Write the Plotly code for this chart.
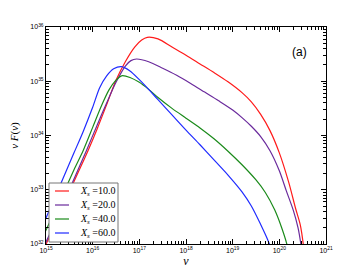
import plotly.graph_objects as go

# Values (log10 of nu, log10 of nu*F(nu))
labels = ["10.0", "20.0", "40.0", "60.0"]
colors = ["#ff1a1a", "#6a2a9c", "#1a8a1a", "#1f2bff"]

lognu_10 = [14.98, 15.3, 15.6, 15.9, 16.1, 16.3, 16.5, 16.7, 16.9, 17.05, 17.17, 17.4, 17.7, 18.0, 18.3, 18.6, 18.9, 19.2, 19.4, 19.6, 19.8, 20.0, 20.2, 20.35, 20.45, 20.52, 20.56]
logf_10 = [31.96, 32.55, 33.15, 33.72, 34.13, 34.57, 35.02, 35.36, 35.63, 35.76, 35.81, 35.78, 35.63, 35.48, 35.32, 35.16, 34.99, 34.79, 34.62, 34.39, 34.09, 33.68, 33.14, 32.65, 32.35, 31.95, 31.6]

lognu_20 = [14.98, 15.3, 15.6, 15.87, 16.1, 16.3, 16.5, 16.7, 16.82, 16.94, 17.2, 17.5, 17.8, 18.1, 18.4, 18.7, 19.0, 19.2, 19.4, 19.6, 19.8, 20.0, 20.15, 20.3, 20.4, 20.47, 20.52]
logf_20 = [32.0, 32.6, 33.2, 33.73, 34.2, 34.6, 34.98, 35.28, 35.38, 35.41, 35.36, 35.24, 35.11, 34.96, 34.8, 34.64, 34.47, 34.33, 34.17, 33.98, 33.72, 33.35, 32.98, 32.62, 32.3, 31.95, 31.6]

lognu_40 = [14.98, 15.3, 15.6, 15.8, 16.0, 16.2, 16.35, 16.5, 16.62, 16.8, 17.0, 17.2, 17.4, 17.7, 18.0, 18.3, 18.6, 18.9, 19.2, 19.5, 19.7, 19.9, 20.05, 20.16, 20.22]
logf_40 = [32.22, 32.8, 33.37, 33.73, 34.15, 34.57, 34.84, 35.02, 35.1, 35.07, 34.98, 34.85, 34.7, 34.5, 34.32, 34.14, 33.94, 33.71, 33.46, 33.18, 32.95, 32.63, 32.3, 32.0, 31.75]

lognu_60 = [14.98, 15.3, 15.6, 15.8, 16.0, 16.15, 16.3, 16.45, 16.62, 16.8, 17.0, 17.2, 17.4, 17.7, 18.0, 18.3, 18.6, 18.9, 19.2, 19.4, 19.6, 19.75, 19.85]
logf_60 = [32.44, 33.08, 33.68, 34.08, 34.52, 34.88, 35.1, 35.23, 35.27, 35.19, 35.03, 34.85, 34.66, 34.38, 34.1, 33.83, 33.55, 33.27, 32.96, 32.7, 32.36, 32.08, 31.85]

x_exps = [15, 16, 17, 18, 19, 20, 21]
y_exps = [32, 33, 34, 35, 36]

series = [(lognu_10, logf_10), (lognu_20, logf_20), (lognu_40, logf_40), (lognu_60, logf_60)]

fig = go.Figure()
for (ln, lf), lab, col in zip(series, labels, colors):
    fig.add_trace(go.Scatter(
        x=[10.0 ** v for v in ln], y=[10.0 ** v for v in lf],
        mode="lines", line=dict(color=col, width=1.2, shape="spline", smoothing=0.8),
        name="<i>X</i><sub><i>s</i></sub> =" + lab, showlegend=False,
    ))

minor_x = [m * 10.0 ** e for e in x_exps[:-1] for m in range(2, 10)]
minor_y = [m * 10.0 ** e for e in y_exps[:-1] for m in range(2, 10)]

axis_common = dict(
    type="log", showgrid=False, zeroline=False, showline=True, linecolor="black",
    linewidth=1, mirror="allticks", ticks="inside", ticklen=5, tickwidth=1,
    tickcolor="black", automargin=False,
    tickfont=dict(family="Liberation Sans, Arial", size=7, color="black"),
)

fig.update_xaxes(
    **axis_common, range=[15, 21], tickmode="array",
    tickvals=[10.0 ** e for e in x_exps], ticktext=["10<sup>%d</sup>" % e for e in x_exps],
    minor=dict(ticks="inside", ticklen=3, tickcolor="black", tickmode="array", tickvals=minor_x),
    title=dict(text="<i>ν</i>", font=dict(family="Liberation Serif", size=12, color="black"), standoff=0),
)
fig.update_yaxes(
    **axis_common, range=[32, 36], tickmode="array",
    tickvals=[10.0 ** e for e in y_exps], ticktext=["10<sup>%d</sup>" % e for e in y_exps],
    minor=dict(ticks="inside", ticklen=3, tickcolor="black", tickmode="array", tickvals=minor_y),
    title=dict(text="<i>ν F</i>(<i>ν</i>)", font=dict(family="Liberation Serif", size=11, color="black"), standoff=9),
)

fig.add_annotation(x=0.94, y=0.885, xref="paper", yref="paper", text="(a)", showarrow=False,
                   xanchor="right", yanchor="middle",
                   font=dict(family="Liberation Sans, Arial", size=12, color="black"))

# Legend box drawn in paper coordinates (plot area: 46..326 px wide, 27..244 px tall)
def px_x(p):
    return (p - 46) / 280.0

def px_y(p):
    return (244 - p) / 217.0

fig.add_shape(type="rect", xref="paper", yref="paper",
              x0=px_x(49), x1=px_x(118), y0=px_y(242), y1=px_y(183),
              line=dict(color="#777777", width=1), fillcolor="white", layer="above")
row_y = [191, 205, 219, 233]
for ry, lab, col in zip(row_y, labels, colors):
    fig.add_shape(type="line", xref="paper", yref="paper",
                  x0=px_x(55), x1=px_x(69), y0=px_y(ry), y1=px_y(ry),
                  line=dict(color=col, width=1.2), layer="above")
    fig.add_annotation(x=px_x(78), y=px_y(ry), xref="paper", yref="paper",
                       text="<i>X</i><sub><i>s</i></sub> =" + lab, showarrow=False,
                       xanchor="left", yanchor="middle",
                       font=dict(family="Liberation Serif", size=10, color="black"))

fig.update_layout(
    width=363, height=273, margin=dict(l=46, r=37, t=27, b=29),
    paper_bgcolor="white", plot_bgcolor="white",
    showlegend=False,
)

fig.write_html("out.html", config={"displayModeBar": False},
               post_script="document.body.style.margin='0px';")
